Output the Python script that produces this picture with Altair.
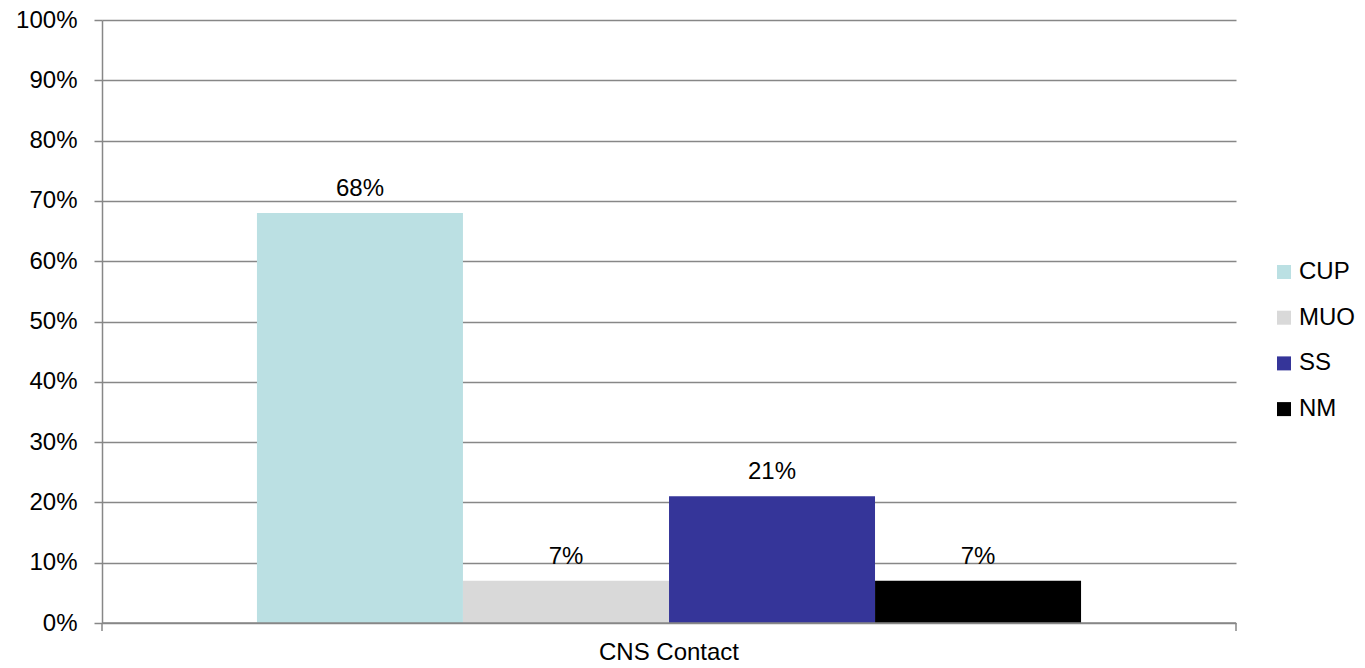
import altair as alt
import pandas as pd

# Share of cases per group for CNS contact
category = ["CNS Contact"] * 4
groups = ["CUP", "MUO", "SS", "NM"]
shares = [0.68, 0.07, 0.21, 0.07]
colors = ["#BBE0E3", "#D9D9D9", "#353599", "#000000"]

df = pd.DataFrame({"category": category, "group": groups, "share": shares})

W, H = 1134, 603
FONT = "Liberation Sans"
FS = 24
GRID = "#878787"

x_scale = alt.Scale(paddingInner=0, paddingOuter=0.188)
x_enc = alt.X(
    "category:N",
    title=None,
    scale=x_scale,
    axis=alt.Axis(
        ticks=False,
        domain=False,
        labelAngle=0,
        labelPadding=17,
        labelFontSize=FS,
        labelFont=FONT,
        labelColor="#000000",
    ),
)
x_off = alt.XOffset("group:N", sort=groups, scale=alt.Scale(paddingInner=0, paddingOuter=0))
y_enc = alt.Y(
    "share:Q",
    title=None,
    scale=alt.Scale(domain=[0, 1], nice=False),
    axis=alt.Axis(
        format="%",
        values=[i / 10 for i in range(11)],
        tickSize=8,
        tickColor=GRID,
        tickWidth=1.5,
        domainColor=GRID,
        domainWidth=1.5,
        gridColor=GRID,
        gridWidth=1.5,
        labelPadding=17,
        labelFontSize=FS,
        labelFont=FONT,
        labelColor="#000000",
    ),
)

bars = alt.Chart(df).mark_bar(size=206).encode(
    x=x_enc,
    xOffset=x_off,
    y=y_enc,
    color=alt.Color(
        "group:N",
        sort=groups,
        scale=alt.Scale(domain=groups, range=colors),
        legend=alt.Legend(
            title=None,
            orient="none",
            legendX=W + 36,
            legendY=240,
            symbolType="square",
            symbolSize=196,
            symbolStrokeWidth=0,
            labelFontSize=FS,
            labelFont=FONT,
            labelColor="#000000",
            rowPadding=21.7,
            labelOffset=3,
        ),
    ),
)

labels = alt.Chart(df).mark_text(
    baseline="alphabetic", dy=-17, fontSize=FS, font=FONT, color="#000000"
).encode(
    x=alt.X("category:N", scale=x_scale),
    xOffset=x_off,
    y=alt.Y("share:Q"),
    text=alt.Text("share:Q", format=".0%"),
)

# baseline and the category boundary ticks hanging below it
edge = pd.DataFrame({"edge": ["axis"]})
baseline = alt.Chart(edge).mark_rule(color=GRID, strokeWidth=1.5).encode(
    x=alt.value(0), x2=alt.value(W), y=alt.value(H)
)
tick_l = alt.Chart(edge).mark_rule(color=GRID, strokeWidth=1.5).encode(
    x=alt.value(0), y=alt.value(H), y2=alt.value(H + 8)
)
tick_r = alt.Chart(edge).mark_rule(color=GRID, strokeWidth=1.5).encode(
    x=alt.value(W), y=alt.value(H), y2=alt.value(H + 8)
)

chart = (
    alt.layer(bars, labels, baseline, tick_l, tick_r)
    .properties(
        width=W,
        height=H,
        autosize=alt.AutoSizeParams(type="none"),
        padding={"left": 102, "top": 20, "right": 129, "bottom": 45},
    )
    .configure_view(stroke=None)
    .configure_axis(grid=True)
    .configure_axisX(grid=False)
)

chart.save("out.html", embed_options={"renderer": "svg", "actions": False})
